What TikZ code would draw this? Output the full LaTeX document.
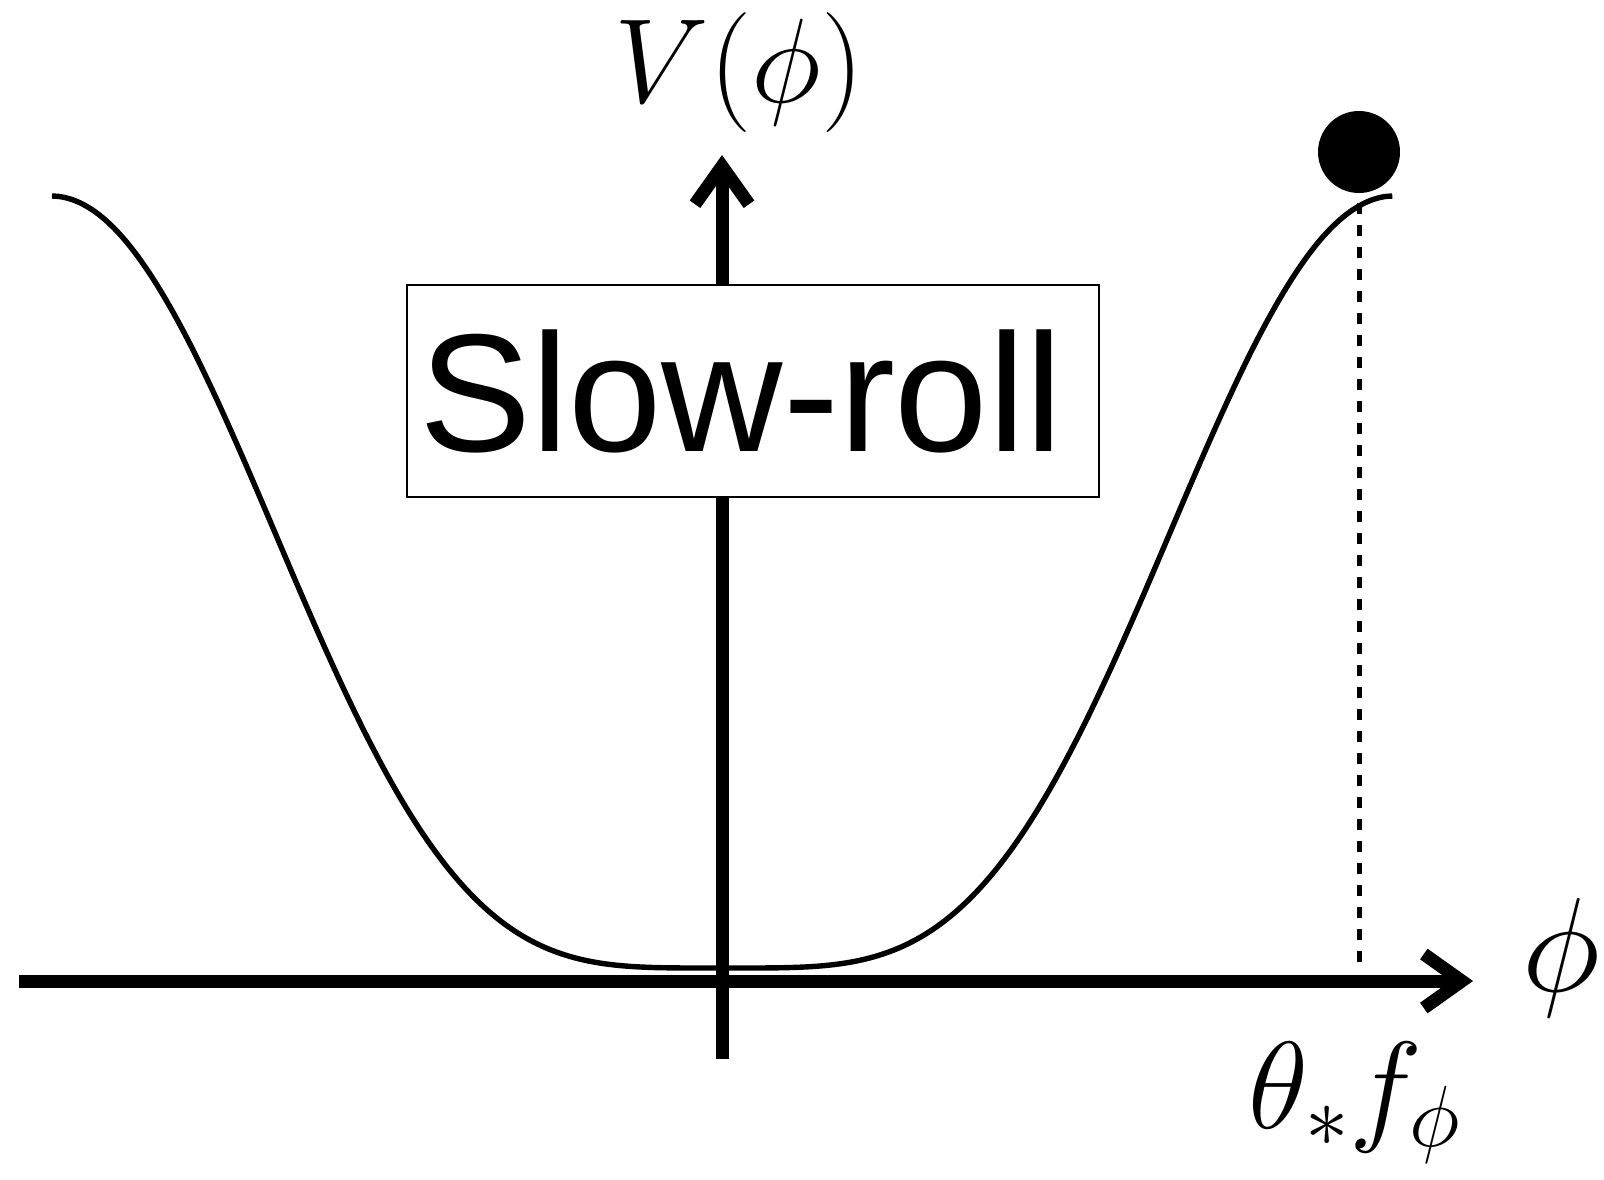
\RequirePackage{fix-cm}
\documentclass[tikz,border=0pt]{standalone}
\usepackage{fontspec}
\newfontfamily\labelsans{Liberation Sans}
\usetikzlibrary{arrows.meta}

\begin{document}
\begin{tikzpicture}[
    x=0.5pt, y=-0.5pt,
    axis/.style={line width=6.5pt, -{Straight Barb[length=19pt, width=27pt]}},
    potential/.style={line width=2.7pt},
    guide/.style={line width=2.5pt, dash pattern=on 5.5pt off 5.5pt},
    box/.style={draw, line width=1pt, fill=white, minimum width=346pt, minimum height=106pt,
      inner xsep=6pt, text width=334pt, align=left, font=\labelsans\fontsize{84}{84}\selectfont},
    mathlabel/.style={inner sep=0pt, font=\fontsize{60}{60}\selectfont},
    ball/.style={circle, fill=black, minimum size=41pt, inner sep=0pt}
  ]
  \useasboundingbox (0,0) rectangle (1604,1179);

  % Axes
  \coordinate (xstart) at (19,981);
  \coordinate (xend) at (1473,981);
  \coordinate (ystart) at (722,1059);
  \coordinate (yend) at (722,155);
  \draw[axis] (xstart) -- (xend);
  \draw[axis] (ystart) -- (yend);

  % Potential
  \draw[potential] plot[domain=-1:1, samples=201, smooth]
    ({722.5+670.5*\x}, {968-772*(sin(90*\x)*sin(90*\x))^2});

  % Label box
  \node[box] (slowroll) at (753,391) {Slow-roll};

  % Field at the initial angle
  \node[ball] (ball) at (1359,152) {};
  \coordinate (peak) at (1359,203);
  \coordinate (peakfoot) at (1359,962);
  \draw[guide] (peak) -- (peakfoot);

  % Axis labels
  \node[mathlabel] (vlabel) at (739,72) {$V(\phi)$};
  \node[mathlabel, font=\fontsize{67}{67}\selectfont] (philabel) at (1561,958) {$\phi$};
  \node[mathlabel, font=\fontsize{62}{62}\selectfont, anchor=base] (thetalabel) at (1355,1128) {$\theta_{*} f_{\phi}$};
\end{tikzpicture}
\end{document}
